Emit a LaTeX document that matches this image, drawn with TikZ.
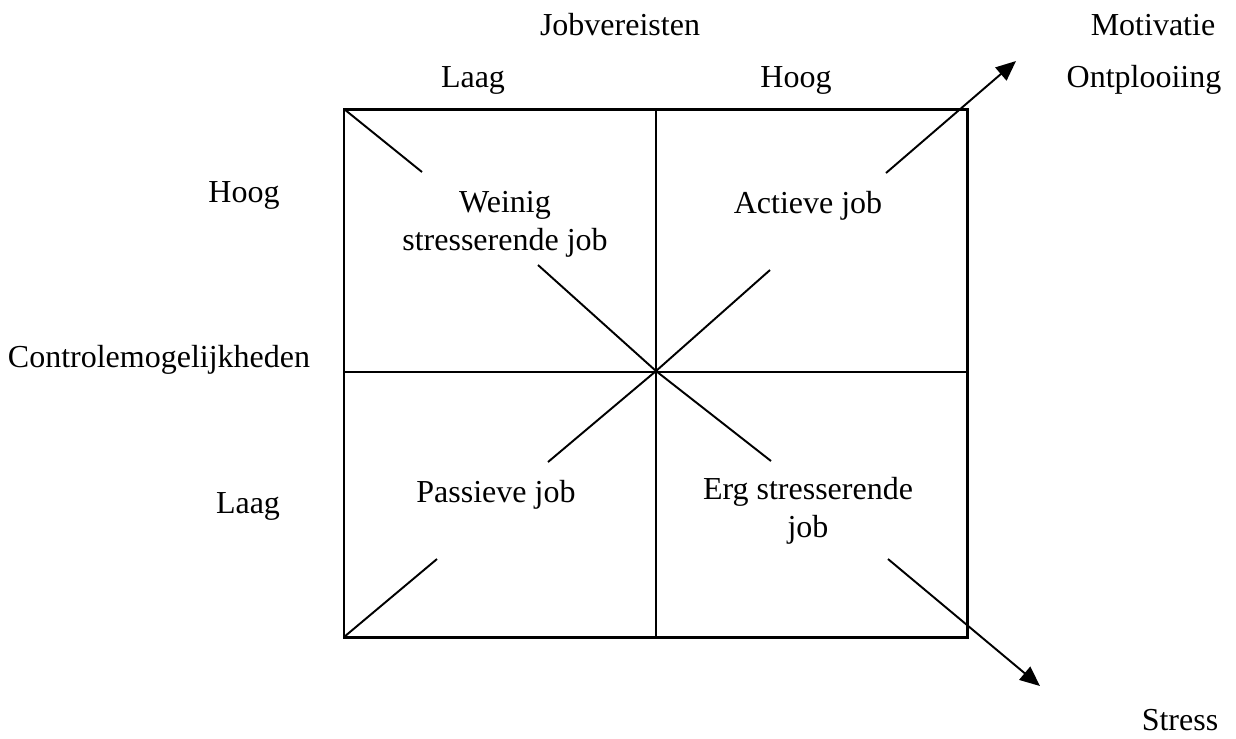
\documentclass[tikz,border=0pt]{standalone}
\usepackage{fontspec}
\setmainfont{Liberation Serif}
\usetikzlibrary{arrows.meta, positioning, calc}

\begin{document}
\begin{tikzpicture}[x=0.01cm, y=-0.01cm,
    every node/.style={font=\fontsize{9.1}{10.8}\selectfont, inner sep=0pt},
    lbl/.style={anchor=base},
    quad/.style={anchor=base, align=center},
    frame/.style={line width=0.85pt},
    divider/.style={line width=0.55pt},
    >={Triangle[length=0.2cm, width=0.17cm]}
  ]
    \useasboundingbox (0,0) rectangle (1236,738);

    % Frame corners and middle points
    \coordinate (TL) at (344,109);
    \coordinate (TR) at (967,109);
    \coordinate (BL) at (344,637);
    \coordinate (BR) at (967,637);
    \coordinate (TM) at (656,109);
    \coordinate (BM) at (656,637);
    \coordinate (LM) at (344,372);
    \coordinate (RM) at (967,372);
    \coordinate (C)  at (656,371);

    % Free ends of the diagonal pieces
    \coordinate (d1a) at (422,172);
    \coordinate (d1b) at (538,265);
    \coordinate (d1c) at (771,461);
    \coordinate (d1d) at (888,559);
    \coordinate (stressTip) at (1040,686);
    \coordinate (d2a) at (437,559);
    \coordinate (d2b) at (548,462);
    \coordinate (d2c) at (770,270);
    \coordinate (d2d) at (886,173);
    \coordinate (motTip) at (1016,61);

    % Axis labels
    \node[lbl] (jobvereisten) at (620,35) {Jobvereisten};
    \node[lbl] (jobLaag) at (473,87) {Laag};
    \node[lbl] (jobHoog) at (796,87) {Hoog};
    \node[lbl] (ctrl) at (159,367) {Controlemogelijkheden};
    \node[lbl] (ctrlHoog) at (244,202) {Hoog};
    \node[lbl] (ctrlLaag) at (248,513) {Laag};
    \node[lbl] (motivatie) at (1153,35) {Motivatie};
    \node[lbl] (ontplooiing) at (1144,87) {Ontplooiing};
    \node[lbl] (stress) at (1180,730) {Stress};

    % Quadrant labels (base = last line)
    \node[quad] (weinig) at (505,250) {Weinig\\stresserende job};
    \node[quad] (actief) at (808,213) {Actieve job};
    \node[quad] (passief) at (496,502) {Passieve job};
    \node[quad] (erg) at (808,537) {Erg stresserende\\job};

    % Frame and dividers
    \draw[frame] (TL) rectangle (BR);
    \draw[divider] (TM) -- (BM);
    \draw[divider] (LM) -- (RM);

    % Diagonal towards stress
    \draw[divider] (TL) -- (d1a);
    \draw[divider] (d1b) -- (C) -- (d1c);
    \draw[divider, ->] (d1d) -- (stressTip);

    % Diagonal towards motivation
    \draw[divider] (BL) -- (d2a);
    \draw[divider] (d2b) -- (C) -- (d2c);
    \draw[divider, ->] (d2d) -- (motTip);
\end{tikzpicture}
\end{document}
